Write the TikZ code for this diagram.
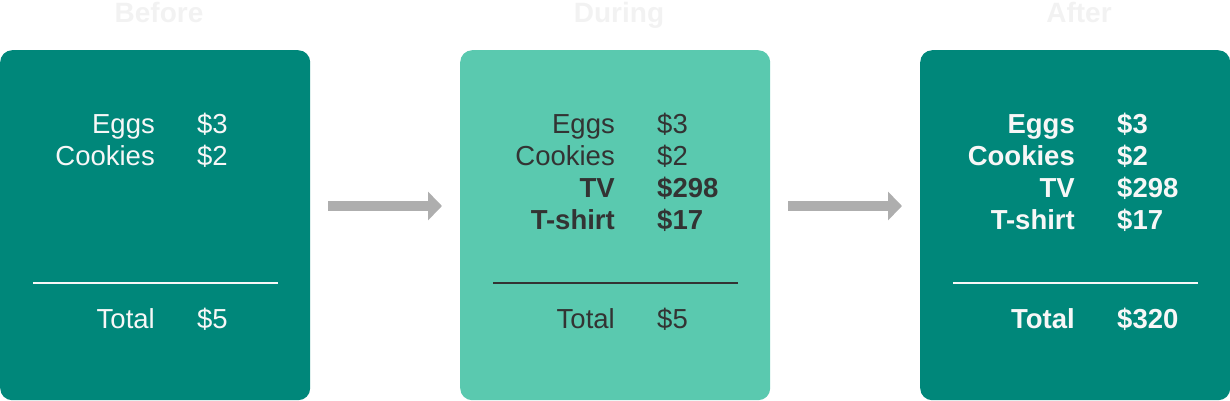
\documentclass[tikz,border=0pt]{standalone}
\usepackage{fontspec}
\setmainfont{Liberation Sans}
\usetikzlibrary{arrows.meta}
\definecolor{darkteal}{HTML}{00877A}
\definecolor{lightteal}{HTML}{5AC9AF}
\definecolor{headgray}{HTML}{F2F2F2}
\definecolor{arrowgray}{HTML}{AEAEAE}
\definecolor{darktext}{HTML}{333333}
\definecolor{lighttext}{HTML}{F7F7F7}
\begin{document}
\begin{tikzpicture}[x=1pt,y=-1pt,
  panel/.style={rounded corners=12pt,minimum width=310pt,minimum height=350pt,inner sep=0pt,anchor=north west},
  heading/.style={text=headgray,font=\fontsize{28}{30}\selectfont\bfseries,anchor=base},
  lbl/.style={anchor=base east,inner sep=0pt,font=\fontsize{27.5}{30}\selectfont},
  val/.style={anchor=base west,inner sep=0pt,font=\fontsize{27.5}{30}\selectfont},
  bold/.style={font=\fontsize{27.5}{30}\selectfont\bfseries},
  sep/.style={line width=2pt},
  flow/.style={draw=arrowgray,line width=10pt,-{Triangle[length=14pt,width=28pt]}}]
\useasboundingbox (0,0) rectangle (1230,400);
% panels
\node[panel,fill=darkteal] (b1) at (0,50) {};
\node[panel,fill=lightteal] (b2) at (460,50) {};
\node[panel,fill=darkteal] (b3) at (920,50) {};
% headings
\node[heading] (h1) at (159,22) {Before};
\node[heading] (h2) at (619,22) {During};
\node[heading] (h3) at (1079,22) {After};
% Before
\begin{scope}[every node/.append style={text=lighttext}]
\node[lbl] (l11) at (155,133) {Eggs};
\node[val] (v11) at (197,133) {\$3};
\node[lbl] (l12) at (155,165) {Cookies};
\node[val] (v12) at (197,165) {\$2};
\node[lbl] (l1t) at (155,328) {Total};
\node[val] (v1t) at (197,328) {\$5};
\end{scope}
\coordinate (s1a) at (33,283);
\coordinate (s1b) at (278,283);
\draw[sep,draw=lighttext] (s1a) -- (s1b);
% During
\begin{scope}[every node/.append style={text=darktext}]
\node[lbl] (l21) at (615,133) {Eggs};
\node[val] (v21) at (657,133) {\$3};
\node[lbl] (l22) at (615,165) {Cookies};
\node[val] (v22) at (657,165) {\$2};
\node[lbl,bold] (l23) at (615,197) {TV};
\node[val,bold] (v23) at (657,197) {\$298};
\node[lbl,bold] (l24) at (615,229) {T-shirt};
\node[val,bold] (v24) at (657,229) {\$17};
\node[lbl] (l2t) at (615,328) {Total};
\node[val] (v2t) at (657,328) {\$5};
\end{scope}
\coordinate (s2a) at (493,283);
\coordinate (s2b) at (738,283);
\draw[sep,draw=darktext] (s2a) -- (s2b);
% After
\begin{scope}[every node/.append style={text=lighttext}]
\node[lbl,bold] (l31) at (1075,133) {Eggs};
\node[val,bold] (v31) at (1117,133) {\$3};
\node[lbl,bold] (l32) at (1075,165) {Cookies};
\node[val,bold] (v32) at (1117,165) {\$2};
\node[lbl,bold] (l33) at (1075,197) {TV};
\node[val,bold] (v33) at (1117,197) {\$298};
\node[lbl,bold] (l34) at (1075,229) {T-shirt};
\node[val,bold] (v34) at (1117,229) {\$17};
\node[lbl,bold] (l3t) at (1075,328) {Total};
\node[val,bold] (v3t) at (1117,328) {\$320};
\end{scope}
\coordinate (s3a) at (953,283);
\coordinate (s3b) at (1198,283);
\draw[sep,draw=lighttext] (s3a) -- (s3b);
% arrows
\coordinate (a1s) at (328,206);
\coordinate (a1e) at (442,206);
\coordinate (a2s) at (788,206);
\coordinate (a2e) at (902,206);
\draw[flow] (a1s) -- (a1e);
\draw[flow] (a2s) -- (a2e);
\end{tikzpicture}
\end{document}
